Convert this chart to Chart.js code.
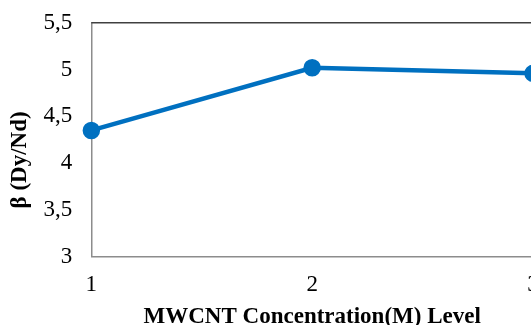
<!DOCTYPE html>
<html>
<head>
<meta charset="utf-8">
<script src="https://cdn.jsdelivr.net/npm/chart.js@4/dist/chart.umd.min.js"></script>
<style>
  html, body { margin: 0; padding: 0; background: #fff; overflow: hidden; }
  #wrap { position: relative; width: 570px; height: 345px; margin-top: -10px; }
</style>
</head>
<body>
<div id="wrap"><canvas id="c"></canvas></div>
<script>
const categories = ["1", "2", "3"];
const betaValues = [4.35, 5.02, 4.96];
const yTicks = [3, 3.5, 4, 4.5, 5, 5.5];

const frameBorder = {
  id: 'frameBorder',
  afterDatasetsDraw(chart) {
    const { ctx, chartArea: a } = chart;
    ctx.save();
    ctx.strokeStyle = '#404040';
    ctx.lineWidth = 1.5;
    ctx.beginPath();
    ctx.moveTo(a.left, a.top);
    ctx.lineTo(a.right, a.top);
    ctx.stroke();
    ctx.restore();
  }
};

new Chart(document.getElementById('c'), {
  type: 'line',
  data: {
    labels: categories,
    datasets: [{
      data: betaValues,
      borderColor: '#0070C0',
      backgroundColor: '#0070C0',
      borderWidth: 4.5,
      pointRadius: 6.5,
      pointHoverRadius: 6.5,
      tension: 0,
      clip: false
    }]
  },
  options: {
    responsive: true,
    maintainAspectRatio: false,
    animation: false,
    layout: { padding: { top: 0, right: 37, left: 6, bottom: 4 } },
    plugins: { legend: { display: false }, tooltip: { enabled: false } },
    scales: {
      x: {
        offset: false,
        grid: { display: false, drawTicks: false },
        border: { display: true, color: '#8c8c8c', width: 1.5 },
        ticks: { color: '#000', padding: 14, font: { family: 'Liberation Serif', size: 23 }, maxRotation: 0 },
        title: { display: true, text: 'MWCNT Concentration(M) Level', color: '#000', padding: { top: -9, bottom: 0 },
                 font: { family: 'Liberation Serif', size: 23, weight: 'bold' } }
      },
      y: {
        min: 3, max: 5.5,
        afterBuildTicks(scale) { scale.ticks = yTicks.map(v => ({ value: v })); },
        grid: { display: false, drawTicks: false },
        border: { display: true, color: '#8c8c8c', width: 1.5 },
        ticks: { color: '#000', padding: 19, font: { family: 'Liberation Serif', size: 23 },
                 callback: v => String(v).replace('.', ',') },
        title: { display: true, text: 'β (Dy/Nd)       ', color: '#000', padding: { top: 0, bottom: -9 },
                 font: { family: 'Liberation Serif', size: 23, weight: 'bold' } }
      }
    }
  },
  plugins: [frameBorder]
});
</script>
</body>
</html>
